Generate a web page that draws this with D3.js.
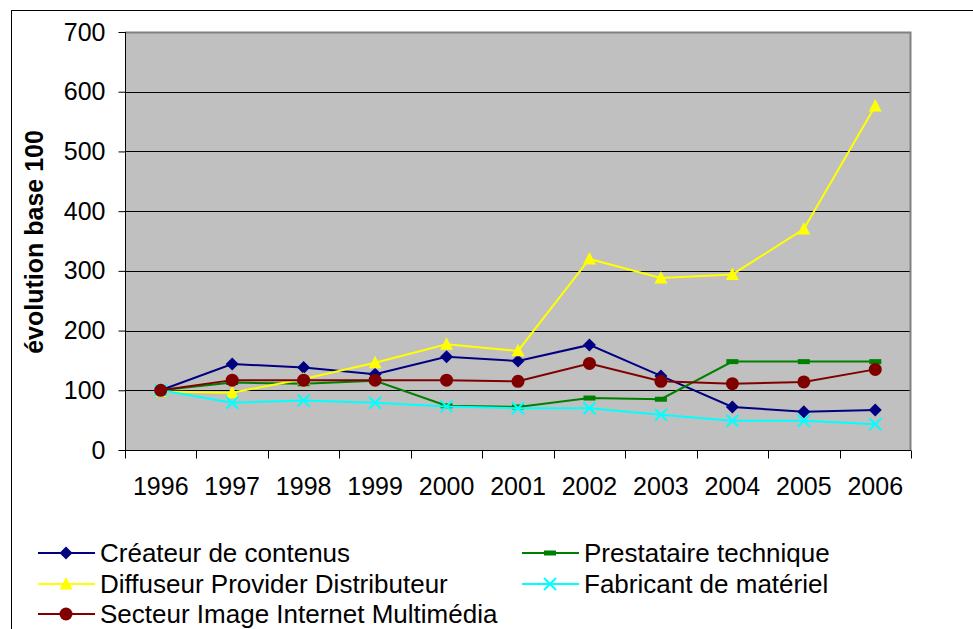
<!DOCTYPE html>
<html>
<head>
<meta charset="utf-8">
<script src="https://cdn.jsdelivr.net/npm/d3@7"></script>
<style>
  body { margin: 0; background: #fff; }
  svg { display: block; font-family: "Liberation Sans", Arial, sans-serif; }
</style>
</head>
<body>
<div id="graphicContainer"></div>
<script>
var years = ["1996", "1997", "1998", "1999", "2000", "2001", "2002", "2003", "2004", "2005", "2006"]
var yTicks = [0, 100, 200, 300, 400, 500, 600, 700]

var createur = [100, 144, 138, 127, 156, 149, 176, 124, 72, 64, 67]
var prestataire = [100, 113, 111, 116, 74, 72, 87, 85, 148, 148, 148]
var diffuseur = [98, 96, 119, 146, 177, 166, 320, 288, 294, 370, 576]
var fabricant = [100, 79, 83, 79, 73, 70, 70, 59, 49, 49, 43]
var secteur = [100, 117, 117, 117, 117, 115, 145, 115, 111, 114, 135]

var seriesNames = ["Créateur de contenus", "Prestataire technique", "Diffuseur Provider Distributeur", "Fabricant de matériel", "Secteur Image Internet Multimédia"]

var series = [
  { name: seriesNames[0], values: createur, color: "#000080", marker: "diamond" },
  { name: seriesNames[1], values: prestataire, color: "#008000", marker: "dash" },
  { name: seriesNames[2], values: diffuseur, color: "#FFFF00", marker: "triangle" },
  { name: seriesNames[3], values: fabricant, color: "#00FFFF", marker: "cross" },
  { name: seriesNames[4], values: secteur, color: "#800000", marker: "circle" }
]

var width = 973, height = 629
var plot = { left: 125, right: 911, top: 32, bottom: 450 }
var fontSize = 25

var svg = d3.select("#graphicContainer")
  .append("svg")
  .attr("width", width)
  .attr("height", height)

// outer chart frame
svg.append("rect")
  .attr("x", 11.5).attr("y", 10.5)
  .attr("width", 980).attr("height", 640)
  .attr("fill", "#fff").attr("stroke", "#000").attr("stroke-width", 1)

var x = d3.scaleBand()
  .domain(years)
  .range([plot.left, plot.right])

var y = d3.scaleLinear()
  .domain([0, 700])
  .range([plot.bottom, plot.top])

// plot background
svg.append("rect")
  .attr("x", plot.left).attr("y", plot.top)
  .attr("width", plot.right - plot.left).attr("height", plot.bottom - plot.top)
  .attr("fill", "#C0C0C0")

// gridlines
svg.append("g")
  .selectAll("line")
  .data(yTicks.filter(d => d > 0))
  .join("line")
  .attr("x1", plot.left).attr("x2", plot.right)
  .attr("y1", d => Math.round(y(d)) + 0.5).attr("y2", d => Math.round(y(d)) + 0.5)
  .attr("stroke", "#000").attr("stroke-width", 1)

// gray border top and right
svg.append("path")
  .attr("d", "M" + plot.left + "," + (plot.top + 0.5) + "H" + (plot.right - 0.5) + "V" + plot.bottom)
  .attr("fill", "none").attr("stroke", "#808080").attr("stroke-width", 2)

// y axis
var yAxis = svg.append("g")
  .attr("transform", "translate(" + (plot.left + 0.5) + ",0)")
  .call(d3.axisLeft(y).tickValues(yTicks).tickSize(7).tickPadding(13).tickFormat(d3.format("d")))
yAxis.selectAll("text").attr("font-size", fontSize).attr("fill", "#000").attr("font-family", "Liberation Sans, Arial")
yAxis.selectAll("line").attr("stroke", "#000")
yAxis.select(".domain").attr("stroke", "#000").attr("d", "M0," + plot.top + "V" + (plot.bottom + 0.5))

// x axis
var xAxis = svg.append("g")
  .attr("transform", "translate(0," + (plot.bottom + 0.5) + ")")
  .call(d3.axisBottom(x).tickSize(0).tickPadding(27))
xAxis.selectAll("text").attr("font-size", fontSize).attr("fill", "#000").attr("font-family", "Liberation Sans, Arial")
xAxis.select(".domain").attr("stroke", "#000").attr("d", "M" + plot.left + ",0H" + plot.right)
xAxis.selectAll(".boundary")
  .data(years.map(d => x(d)).concat([plot.right]))
  .join("line")
  .attr("class", "boundary")
  .attr("x1", d => Math.round(d) + 0.5).attr("x2", d => Math.round(d) + 0.5)
  .attr("y1", 0).attr("y2", 8)
  .attr("stroke", "#000")

// y label
svg.append("text")
  .attr("transform", "translate(43,242) rotate(-90)")
  .attr("text-anchor", "middle")
  .attr("font-size", 25)
  .attr("font-weight", "bold")
  .text("évolution base 100")

function drawMarker(g, type, color) {
  if (type === "diamond") {
    g.append("path").attr("d", "M0,-6.5L6.5,0L0,6.5L-6.5,0Z").attr("fill", color)
  } else if (type === "dash") {
    g.append("rect").attr("x", -6).attr("y", -2.5).attr("width", 12).attr("height", 5).attr("fill", color)
  } else if (type === "triangle") {
    g.append("path").attr("d", "M0,-7L6.5,5.5L-6.5,5.5Z").attr("fill", color)
  } else if (type === "cross") {
    g.append("path").attr("d", "M-6,-6L6,6M-6,6L6,-6").attr("stroke", color).attr("stroke-width", 2).attr("fill", "none")
  } else if (type === "circle") {
    g.append("circle").attr("r", 6.5).attr("fill", color)
  }
}

var line = d3.line()
  .x((d, i) => x(years[i]) + x.bandwidth() / 2)
  .y(d => y(d))

series.forEach(function (s) {
  var g = svg.append("g")
  g.append("path")
    .attr("d", line(s.values))
    .attr("fill", "none")
    .attr("stroke", s.color)
    .attr("stroke-width", 2)
  s.values.forEach(function (v, i) {
    var m = g.append("g")
      .attr("transform", "translate(" + (x(years[i]) + x.bandwidth() / 2) + "," + y(v) + ")")
    drawMarker(m, s.marker, s.color)
  })
})

// legend
var legendPos = [
  { x: 38, y: 553 }, { x: 522, y: 553 },
  { x: 38, y: 584 }, { x: 522, y: 584 },
  { x: 38, y: 614 }
]

series.forEach(function (s, i) {
  var p = legendPos[i]
  var lg = svg.append("g").attr("transform", "translate(" + p.x + "," + p.y + ")")
  lg.append("line").attr("x1", 0).attr("x2", 57).attr("y1", 0).attr("y2", 0)
    .attr("stroke", s.color).attr("stroke-width", 2)
  drawMarker(lg.append("g").attr("transform", "translate(28,0)"), s.marker, s.color)
  lg.append("text")
    .attr("x", 62).attr("y", 9)
    .attr("font-size", 26)
    .text(s.name)
})
</script>
</body>
</html>
